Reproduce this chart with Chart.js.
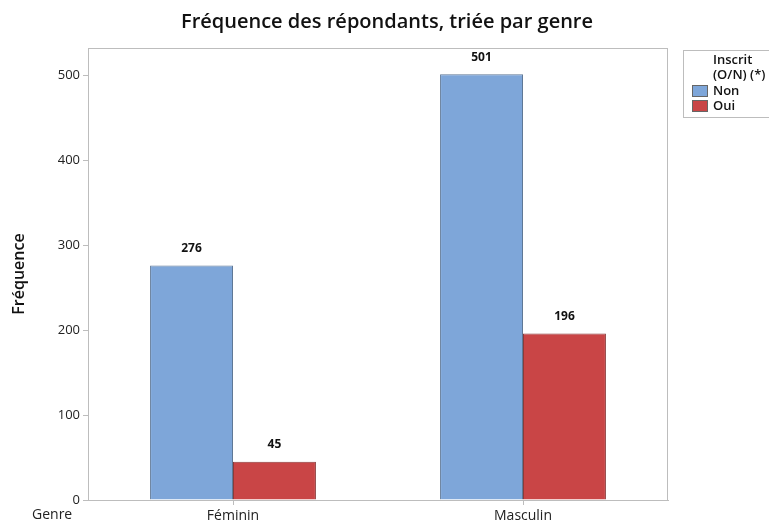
<!DOCTYPE html>
<html>
<head>
<meta charset="utf-8">
<script src="https://cdn.jsdelivr.net/npm/chart.js@4.4.0/dist/chart.umd.min.js"></script>
<style>
	body { margin: 0; background: #fff; }
	#wrap { width: 769px; height: 522px; position: relative; }
</style>
</head>
<body>
<div id="wrap"><canvas id="chart"></canvas></div>
<script>
var genres = ["Féminin", "Masculin"];
var seriesNames = ["Non", "Oui"];
var valuesNon = [276, 501];
var valuesOui = [45, 196];
var yTicks = [0, 100, 200, 300, 400, 500];

var FONT = "'Open Sans', 'Noto Sans', sans-serif";

// title, frame, legend, value labels and the "Genre" caption
var extrasPlugin = {
	id: "extras",
	afterDraw: function(chart) {
		var ctx = chart.ctx;
		var area = chart.chartArea;
		ctx.save();

		ctx.fillStyle = "#111";
		ctx.font = "600 20px " + FONT;
		ctx.textAlign = "center";
		ctx.textBaseline = "middle";
		ctx.fillText("Fréquence des répondants, triée par genre", 387, 22);

		ctx.strokeStyle = "#bdbdbd";
		ctx.lineWidth = 1;
		ctx.strokeRect(area.left + 0.5, area.top + 0.5, area.right - area.left - 1, area.bottom - area.top);

		// values above the bars
		ctx.font = "bold 12px " + FONT;
		ctx.fillStyle = "#111";
		chart.data.datasets.forEach(function(ds, di) {
			var meta = chart.getDatasetMeta(di);
			meta.data.forEach(function(bar, i) {
				ctx.fillText(String(ds.data[i]), bar.x, bar.y - 17);
			});
		});

		ctx.font = "14px " + FONT;
		ctx.fillStyle = "#222";
		ctx.textAlign = "left";
		ctx.fillText("Genre", 32, 515);

		// legend box
		ctx.strokeStyle = "#bdbdbd";
		ctx.strokeRect(683.5, 50.5, 100, 67);
		ctx.font = "600 13px " + FONT;
		ctx.fillStyle = "#111";
		ctx.fillText("Inscrit", 713, 60);
		ctx.fillText("(O/N) (*)", 713, 75);
		chart.data.datasets.forEach(function(ds, di) {
			var y = 91 + di * 15;
			ctx.fillStyle = ds.backgroundColor;
			ctx.fillRect(692, y - 6, 16, 12);
			ctx.strokeStyle = "#666";
			ctx.strokeRect(692.5, y - 5.5, 15, 11);
			ctx.fillStyle = "#111";
			ctx.fillText(ds.label, 713, y);
		});
		ctx.restore();
	}
};

var ctx = document.getElementById("chart");
var myChart = new Chart(ctx, {
	type: "bar",
	data: {
		labels: genres,
		datasets: [{
			label: seriesNames[0],
			data: valuesNon,
			backgroundColor: "#7ea6d9",
			borderColor: "#5f7896",
			borderWidth: 1
		}, {
			label: seriesNames[1],
			data: valuesOui,
			backgroundColor: "#c94546",
			borderColor: "#8a3a3a",
			borderWidth: 1
		}]
	},
	options: {
		responsive: true,
		maintainAspectRatio: false,
		animation: false,
		layout: { padding: { left: 0, right: 101, top: 48, bottom: 0 } },
		categoryPercentage: 0.572,
		barPercentage: 1.0,
		plugins: {
			legend: { display: false },
			title: { display: false },
			tooltip: { enabled: false }
		},
		scales: {
			x: {
				afterFit: function(scale) { scale.height = 22; },
				grid: { display: true, offset: false, drawOnChartArea: false, drawTicks: true, tickLength: 5, color: "#bdbdbd" },
				border: { color: "#bdbdbd" },
				ticks: { color: "#222", font: { family: FONT, size: 14 }, padding: 3 }
			},
			y: {
				min: 0,
				max: 532,
				afterFit: function(scale) { scale.width = 88; },
				afterBuildTicks: function(scale) {
					scale.ticks = yTicks.map(function(v) { return { value: v }; });
				},
				grid: { display: true, drawOnChartArea: false, drawTicks: true, tickLength: 5, color: "#bdbdbd" },
				border: { color: "#bdbdbd" },
				ticks: { color: "#222", font: { family: FONT, size: 13 }, padding: 3 },
				title: {
					display: true,
					text: "Fréquence",
					color: "#111",
					font: { family: FONT, size: 16, weight: "600" },
					padding: { top: 10, bottom: 0 }
				}
			}
		}
	},
	plugins: [extrasPlugin]
});
</script>
</body>
</html>
